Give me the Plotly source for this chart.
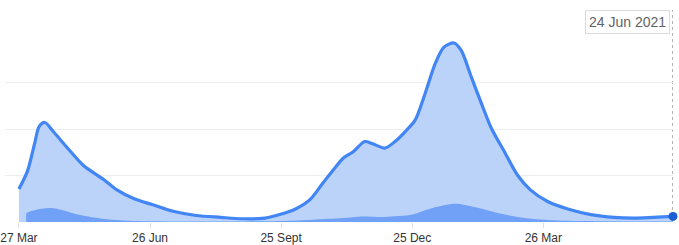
import plotly.graph_objects as go

# Main series (light area with line)
dates_total = ["2020-03-27", "2020-04-02", "2020-04-07", "2020-04-10", "2020-04-14", "2020-04-20",
               "2020-05-02", "2020-05-11", "2020-05-25", "2020-06-03", "2020-06-15", "2020-06-28",
               "2020-07-12", "2020-07-28", "2020-08-14", "2020-08-29", "2020-09-14", "2020-09-24",
               "2020-10-05", "2020-10-15", "2020-10-24", "2020-11-02", "2020-11-07", "2020-11-14",
               "2020-11-22", "2020-11-27", "2020-12-06", "2020-12-13", "2020-12-20", "2020-12-27",
               "2021-01-03", "2021-01-10", "2021-01-16", "2021-01-23", "2021-01-28", "2021-02-04",
               "2021-02-11", "2021-02-18", "2021-02-27", "2021-03-08", "2021-03-17", "2021-03-29",
               "2021-04-12", "2021-04-28", "2021-05-14", "2021-05-28", "2021-06-10", "2021-06-24"]
values_total = [0.71, 1.10, 1.70, 2.05, 2.14, 1.94,
                1.51, 1.21, 0.91, 0.69, 0.50, 0.37,
                0.23, 0.14, 0.10, 0.07, 0.085, 0.16,
                0.28, 0.48, 0.84, 1.19, 1.37, 1.51,
                1.73, 1.69, 1.59, 1.73, 1.94, 2.19,
                2.77, 3.41, 3.76, 3.85, 3.69, 3.12,
                2.55, 2.01, 1.51, 1.01, 0.69, 0.44,
                0.28, 0.16, 0.10, 0.085, 0.10, 0.12]

# Secondary series (darker area)
dates_sub = ["2020-04-01", "2020-04-04", "2020-04-16", "2020-04-23", "2020-05-07", "2020-05-25",
             "2020-06-17", "2020-08-02", "2020-09-25", "2020-10-17", "2020-11-07", "2020-11-20",
             "2020-12-06", "2020-12-25", "2021-01-08", "2021-01-24", "2021-02-06", "2021-02-23",
             "2021-03-13", "2021-04-05", "2021-05-05", "2021-06-24"]
values_sub = [0.19, 0.23, 0.30, 0.28, 0.16, 0.065,
              0.02, 0.01, 0.02, 0.05, 0.085, 0.12,
              0.11, 0.16, 0.30, 0.39, 0.32, 0.19,
              0.085, 0.03, 0.015, 0.01]

tick_vals = ["2020-03-27", "2020-06-26", "2020-09-25", "2020-12-25", "2021-03-26"]
tick_text = ["27 Mar", "26 Jun", "25 Sept", "25 Dec", "26 Mar"]
tooltip_text = "24 Jun 2021"

fig = go.Figure()
fig.add_trace(go.Scatter(
    x=dates_total, y=values_total, mode="lines", fill="tozeroy",
    fillcolor="#bcd3f9", line=dict(color="#4285f4", width=3.2, shape="spline", smoothing=0.8),
    hoverinfo="skip", showlegend=False))
fig.add_trace(go.Scatter(
    x=dates_sub, y=values_sub, mode="lines", fill="tozeroy",
    fillcolor="#70a1f6", line=dict(color="rgba(0,0,0,0)", width=0, shape="spline", smoothing=0.8),
    hoverinfo="skip", showlegend=False))
fig.add_trace(go.Scatter(
    x=[dates_total[-1]], y=[values_total[-1]], mode="markers",
    marker=dict(color="#1a5fd6", size=9), cliponaxis=False,
    hoverinfo="skip", showlegend=False))

H, mt, mb = 245, 36, 23
ph = H - mt - mb

fig.add_shape(type="line", xref="x", yref="paper",
              x0=dates_total[-1], x1=dates_total[-1], y0=0, y1=1 + (mt - 10) / ph,
              line=dict(color="#666666", width=1, dash="dot"), layer="below")

fig.add_annotation(xref="x", yref="paper", x=dates_total[-1], y=1 + (mt - 10) / ph,
                   xanchor="right", yanchor="top", xshift=-3, text=tooltip_text, showarrow=False,
                   font=dict(family="Liberation Sans, Arial", size=14, color="#5f6368"),
                   bgcolor="white", bordercolor="#dcdcdc", borderwidth=1, borderpad=3)

fig.update_layout(
    width=679, height=245, margin=dict(l=0, r=6, t=mt, b=mb),
    paper_bgcolor="white", plot_bgcolor="white",
    font=dict(family="Liberation Sans, Arial", size=12, color="#333333"),
    xaxis=dict(range=["2020-03-17 08:00", "2021-06-24"], tickvals=tick_vals, ticktext=tick_text,
               showgrid=False, zeroline=False, ticks="outside", ticklen=5, tickcolor="#dddddd",
               ticklabeloverflow="allow",
               tickfont=dict(size=12, color="#333333"), showline=False),
    yaxis=dict(range=[0, 4], tickvals=[0, 1, 2, 3, 4], showticklabels=False,
               showgrid=True, gridcolor="#eeeeee", gridwidth=1, zeroline=False),
)

fig.write_html("out.html")
